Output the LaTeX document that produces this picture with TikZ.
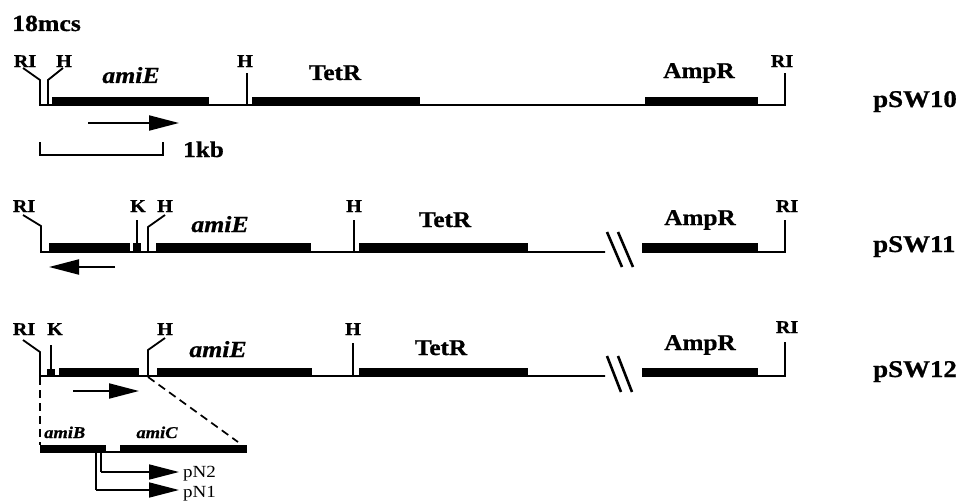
\documentclass[tikz,border=0pt]{standalone}
\usepackage{fontspec}
\setmainfont[FakeStretch=1.12, BoldFeatures={FakeBold=0.8}, BoldItalicFeatures={FakeBold=0.8}]{Liberation Serif}
\usetikzlibrary{arrows.meta}
\tikzset{
  lbl/.style={font=\fontsize{22.5}{23}\selectfont\bfseries, inner sep=0pt},
  big/.style={font=\fontsize{24}{25}\selectfont\bfseries, inner sep=0pt},
  ttl/.style={font=\fontsize{23}{24}\selectfont\bfseries, inner sep=0pt},
  sml/.style={font=\fontsize{18}{19}\selectfont\bfseries, inner sep=0pt},
  gene/.style={font=\fontsize{23}{24}\selectfont\bfseries\itshape, inner sep=0pt},
  sgene/.style={font=\fontsize{16.5}{17}\selectfont\bfseries\itshape, inner sep=0pt},
  prom/.style={font=\fontsize{17}{18}\selectfont, inner sep=0pt},
  thinline/.style={line width=1.8pt, line join=miter},
  barfill/.style={fill=black, draw=none},
  dir/.style={line width=2pt, -{Triangle[length=30pt, width=15pt]}},
  brk/.style={line width=2.6pt},
  dsh/.style={line width=1.7pt, dash pattern=on 8pt off 5pt}
}
\begin{document}
\begin{tikzpicture}[x=1pt,y=-1pt]
\useasboundingbox (0,0) rectangle (972,503);
% title
\node[ttl, anchor=base west] (t18) at (12,31) {18mcs};

% ================= Row 1: pSW10 (baseline 105)
\draw[thinline] (23,68) -- (40,80) -- (40,105) -- (48,105) -- (48,80) -- (63,68);
\draw[thinline] (48,105) -- (785,105) -- (785,73);
\draw[thinline] (247,105) -- (247,73);
\fill[barfill] (52,97) rectangle (209,105.9);
\fill[barfill] (252,97) rectangle (420,105.9);
\fill[barfill] (645,97) rectangle (758,105.9);
\node[sml, anchor=base] (r1ri) at (25,67) {RI};
\node[sml, anchor=base] (r1h) at (64,67) {H};
\node[sml, anchor=base] (r1h2) at (245,67) {H};
\node[sml, anchor=base] (r1ri2) at (782,67) {RI};
\node[gene, anchor=base] (r1amiE) at (131,83) {amiE};
\node[lbl, anchor=base] (r1tet) at (335,80) {TetR};
\node[lbl, anchor=base] (r1amp) at (699,78) {AmpR};
\node[big, anchor=base west] (p10) at (873,107) {pSW10};
\coordinate (a1s) at (88,123);
\coordinate (a1e) at (179,123);
\draw[dir] (a1s) -- (a1e);
% scale bar
\draw[line width=1.5pt] (40,142) -- (40,155) -- (163,155) -- (163,142);
\node[lbl, anchor=base west] (kb) at (183,157) {1kb};

% ================= Row 2: pSW11 (baseline 252)
\draw[thinline] (23,215) -- (41,226) -- (41,252) -- (605,252);
\draw[thinline] (148,252) -- (148,227) -- (165,215);
\draw[thinline] (137,244) -- (137,220);
\draw[thinline] (354,252) -- (354,220);
\draw[thinline] (642,252) -- (785,252) -- (785,220);
\fill[barfill] (49,243) rectangle (130,252.9);
\fill[barfill] (133,243) rectangle (141,252.9);
\fill[barfill] (156,243) rectangle (311,252.9);
\fill[barfill] (359,243) rectangle (528,252.9);
\fill[barfill] (642,243) rectangle (758,252.9);
\draw[brk] (607,232) -- (622,267);
\draw[brk] (618,232) -- (633,267);
\node[sml, anchor=base] (r2ri) at (24,212) {RI};
\node[sml, anchor=base] (r2k) at (138,212) {K};
\node[sml, anchor=base] (r2h) at (165,212) {H};
\node[sml, anchor=base] (r2h2) at (354,212) {H};
\node[sml, anchor=base] (r2ri2) at (787,212) {RI};
\node[gene, anchor=base] (r2amiE) at (220,232) {amiE};
\node[lbl, anchor=base] (r2tet) at (445,227) {TetR};
\node[lbl, anchor=base] (r2amp) at (700,225) {AmpR};
\node[big, anchor=base west] (p11) at (873,252) {pSW11};
\coordinate (a2s) at (115,267);
\coordinate (a2e) at (49,267);
\draw[dir] (a2s) -- (a2e);

% ================= Row 3: pSW12 (baseline 376)
\draw[thinline] (23,340) -- (40,352) -- (40,376) -- (605,376);
\draw[thinline] (148,376) -- (148,350) -- (165,338);
\draw[thinline] (51,369) -- (51,345);
\draw[thinline] (353,376) -- (353,343);
\draw[thinline] (642,376) -- (785,376) -- (785,342);
\fill[barfill] (47,368.5) rectangle (55,376.9);
\fill[barfill] (59,368) rectangle (139,376.9);
\fill[barfill] (157,368) rectangle (312,376.9);
\fill[barfill] (359,368) rectangle (528,376.9);
\fill[barfill] (642,368) rectangle (758,376.9);
\draw[brk] (607,356) -- (621,392);
\draw[brk] (618,356) -- (632,392);
\node[sml, anchor=base] (r3ri) at (24,335) {RI};
\node[sml, anchor=base] (r3k) at (55,335) {K};
\node[sml, anchor=base] (r3h) at (165,335) {H};
\node[sml, anchor=base] (r3h2) at (353,335) {H};
\node[sml, anchor=base] (r3ri2) at (787,333) {RI};
\node[gene, anchor=base] (r3amiE) at (218,357) {amiE};
\node[lbl, anchor=base] (r3tet) at (441,355) {TetR};
\node[lbl, anchor=base] (r3amp) at (700,350) {AmpR};
\node[big, anchor=base west] (p12) at (873,377) {pSW12};
\coordinate (a3s) at (73,391);
\coordinate (a3e) at (139,391);
\draw[dir] (a3s) -- (a3e);

% expansion
\draw[dsh] (40,377) -- (40,445);
\draw[dsh] (148,377) -- (238,442);
\draw[thinline] (40,452) -- (247,452);
\fill[barfill] (40,445) rectangle (106,452.9);
\fill[barfill] (120,445) rectangle (247,452.9);
\node[sgene, anchor=base west] (amiB) at (44,438) {amiB};
\node[sgene, anchor=base] (amiC) at (157,438) {amiC};
% promoters
\coordinate (pn2a) at (101,452);
\coordinate (pn2b) at (101,472);
\coordinate (pn2e) at (179,472);
\coordinate (pn1a) at (96,452);
\coordinate (pn1b) at (96,490);
\coordinate (pn1e) at (179,490);
\draw[thinline] (pn2a) -- (pn2b);
\draw[dir, line width=1.7pt] (pn2b) -- (pn2e);
\draw[thinline] (pn1a) -- (pn1b);
\draw[dir, line width=1.7pt] (pn1b) -- (pn1e);
\node[prom, anchor=base west] (pN2) at (183,477) {pN2};
\node[prom, anchor=base west] (pN1) at (183,497) {pN1};
\end{tikzpicture}
\end{document}
